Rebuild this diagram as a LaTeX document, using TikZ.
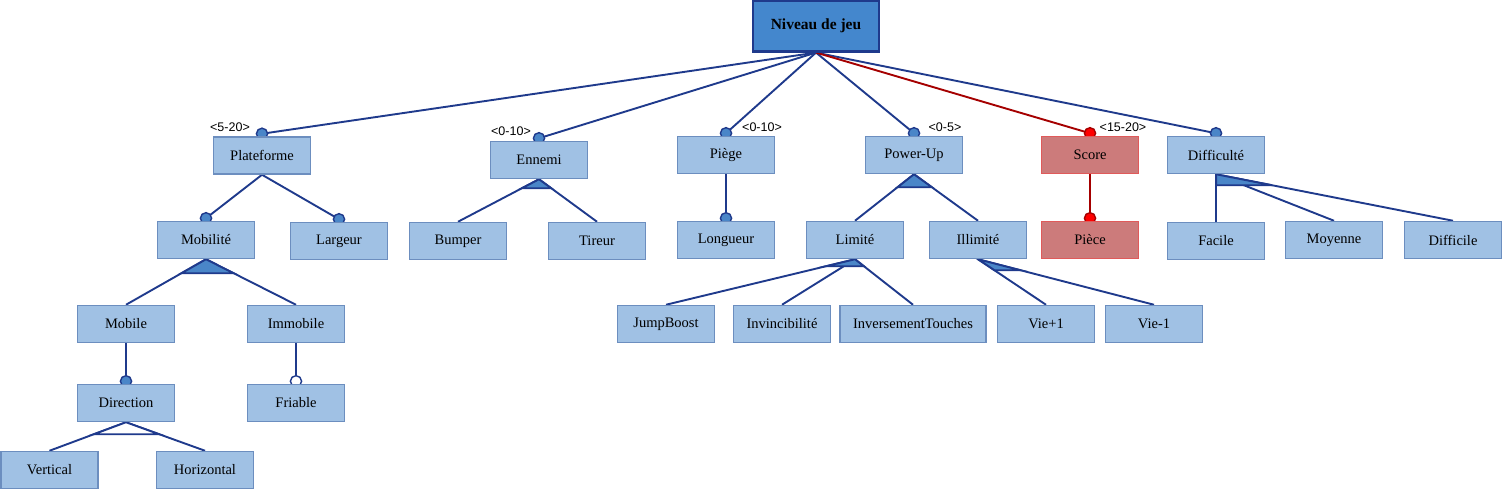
\documentclass[tikz,border=0pt]{standalone}
\usepackage{fontspec}
\setmainfont{Liberation Serif}
\newfontfamily\cardfont{Liberation Sans}
\usepackage{tikz}
\usetikzlibrary{calc}
\usepackage{xcolor}
\definecolor{boxfill}{HTML}{A0C1E4}
\definecolor{boxline}{HTML}{6C8EBF}
\definecolor{rootfill}{HTML}{4487CD}
\definecolor{navy}{HTML}{1F3A8C}
\definecolor{dotfill}{HTML}{4A86C8}
\definecolor{redfill}{HTML}{CC7B7B}
\definecolor{redline}{HTML}{E05A5A}
\definecolor{darkred}{HTML}{A50000}
\pgfdeclarelayer{bg}
\pgfsetlayers{bg,main}

% triangle de groupe : parent, premier fils, dernier fils, profondeur, remplissage
\newcommand{\grp}[5]{%
    \coordinate (h1) at ($(#1.south)+(0,#4)$);
    \coordinate (h2) at ($(#1.south)+(100,#4)$);
    \filldraw[link, fill=#5] (#1.south)
        -- (intersection of #1.south--#2.north and h1--h2)
        -- (intersection of #1.south--#3.north and h1--h2) -- cycle;
}

\begin{document}
\begin{tikzpicture}[
        x=1pt, y=-1pt,
        feat/.style={
            draw=boxline,
            fill=boxfill,
            line width=1.5pt,
            minimum width=97pt,
            minimum height=37pt,
            inner sep=0pt,
            font=\fontsize{14.5}{16}\selectfont
        },
        redfeat/.style={feat, draw=redline, fill=redfill},
        rootbox/.style={
            draw=navy,
            fill=rootfill,
            line width=2.2pt,
            minimum width=126pt,
            minimum height=51pt,
            font=\fontsize{15.5}{18}\selectfont\bfseries
        },
        link/.style={draw=navy, line width=1.9pt},
        redlink/.style={draw=darkred, line width=1.9pt},
        dot/.style={draw=navy, fill=dotfill, line width=1.4pt},
        opendot/.style={dot, fill=white},
        reddot/.style={draw=darkred, fill=red, line width=1.4pt},
        card/.style={font=\cardfont\fontsize{12.5}{14}\selectfont, inner sep=0pt}
    ]
    \useasboundingbox (0,0) rectangle (1502,489);

    % Racine
    \node[rootbox] (niv) at (816,26) {Niveau de jeu};

    % Niveau 1
    \node[feat] (plat) at (262,155.5) {Plateforme};
    \node[feat] (enn) at (539,160) {Ennemi};
    \node[feat] (piege) at (726,155) {Piège};
    \node[feat] (pow) at (914,155) {Power-Up};
    \node[redfeat] (score) at (1090,155) {Score};
    \node[feat] (diff) at (1216,155) {Difficulté};

    % Niveau 2
    \node[feat] (mobi) at (206,240) {Mobilité};
    \node[feat] (larg) at (339,241) {Largeur};
    \node[feat] (bump) at (458,241) {Bumper};
    \node[feat] (tir) at (597,241) {Tireur};
    \node[feat] (long) at (726,240) {Longueur};
    \node[feat] (lim) at (855,240) {Limité};
    \node[feat] (illim) at (978,240) {Illimité};
    \node[redfeat] (piece) at (1090,240) {Pièce};
    \node[feat] (fac) at (1216,241) {Facile};
    \node[feat] (moy) at (1334,240) {Moyenne};
    \node[feat] (dif) at (1453,240) {Difficile};

    % Niveau 3
    \node[feat] (mob) at (126,324) {Mobile};
    \node[feat] (immob) at (296,324) {Immobile};
    \node[feat] (jump) at (666,324) {JumpBoost};
    \node[feat] (invin) at (782,324) {Invincibilité};
    \node[feat, minimum width=146pt] (inver) at (913,324) {InversementTouches};
    \node[feat] (vplus) at (1046,324) {Vie+1};
    \node[feat] (vmoins) at (1154,324) {Vie-1};

    % Niveau 4
    \node[feat] (dir) at (126,403) {Direction};
    \node[feat] (fri) at (296,403) {Friable};
    \node[feat] (vert) at (49.5,470) {Vertical};
    \node[feat] (hori) at (205,470) {Horizontal};

    % Cardinalites
    \node[card] (cplatn) at (230,127) {<5-20>};
    \node[card] (cennn) at (511,131) {<0-10>};
    \node[card] (cpiegen) at (762,127) {<0-10>};
    \node[card] (cpown) at (945,127) {<0-5>};
    \node[card] (cscoren) at (1123,127) {<15-20>};

    % Points d'attache
    \foreach \n in {plat, enn, piege, pow, score, diff, mobi, larg, long, piece, dir, fri}
        \coordinate (c\n) at ([yshift=2.5pt]\n.north);

    \begin{pgfonlayer}{bg}
        % Liens
        \foreach \c in {cplat, cenn, cpiege, cpow, cdiff}
            \draw[link] (niv.south) -- (\c);
        \draw[redlink] (niv.south) -- (cscore);
        \draw[link] (plat.south) -- (cmobi);
        \draw[link] (plat.south) -- (clarg);
        \draw[link] (piege.south) -- (clong);
        \draw[redlink] (score.south) -- (cpiece);
        \draw[link] (mob.south) -- (cdir);
        \draw[link] (immob.south) -- (cfri);
        \foreach \p/\c in {mobi/mob, mobi/immob, dir/vert, dir/hori, enn/bump, enn/tir,
                pow/lim, pow/illim, lim/jump, lim/invin, lim/inver,
                illim/vplus, illim/vmoins, diff/fac, diff/moy, diff/dif}
            \draw[link] (\p.south) -- (\c.north);

        % Groupes
        \grp{mobi}{mob}{immob}{14}{dotfill}
        \grp{dir}{vert}{hori}{12}{white}
        \grp{enn}{bump}{tir}{9}{dotfill}
        \grp{pow}{lim}{illim}{13}{dotfill}
        \grp{lim}{jump}{inver}{7}{dotfill}
        \grp{illim}{vplus}{vmoins}{11}{dotfill}
        \grp{diff}{fac}{dif}{11}{dotfill}

        % Cercles
        \foreach \c in {cplat, cenn, cpiege, cpow, cdiff, cmobi, clarg, clong, cdir}
            \filldraw[dot] (\c) circle (5.6pt);
        \filldraw[opendot] (cfri) circle (5.6pt);
        \filldraw[reddot] (cscore) circle (5.6pt);
        \filldraw[reddot] (cpiece) circle (5.6pt);
    \end{pgfonlayer}

\end{tikzpicture}
\end{document}
